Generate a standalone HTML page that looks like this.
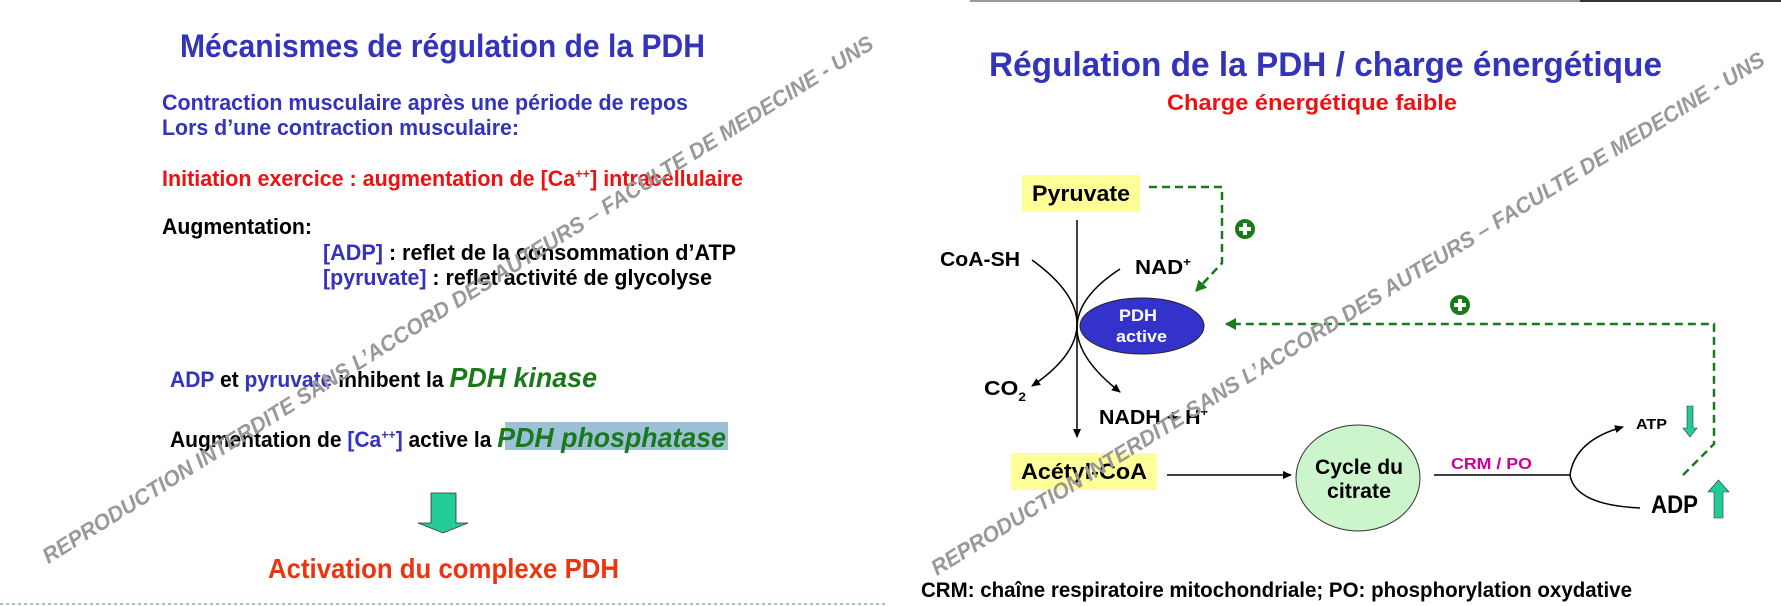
<!DOCTYPE html>
<html><head><meta charset="utf-8"><style>
html,body{margin:0;padding:0;background:#fff;}
svg{display:block;}
text{font-family:"Liberation Sans",Arial,sans-serif;font-weight:bold;}
</style></head><body>
<svg width="1781" height="606" viewBox="0 0 1781 606" xmlns="http://www.w3.org/2000/svg">
<defs>
<marker id="ab" markerWidth="10" markerHeight="10" refX="8" refY="5" orient="auto" markerUnits="userSpaceOnUse"><path d="M0,1 L9,5 L0,9 Z" fill="#000"/></marker>
<marker id="ag" markerWidth="14" markerHeight="14" refX="10" refY="7" orient="auto" markerUnits="userSpaceOnUse"><path d="M0,1 L11,7 L0,13 Z" fill="#1a7a1a"/></marker>
</defs>
<rect width="1781" height="606" fill="#fff"/>
<line x1="0" y1="604" x2="885" y2="604" stroke="#8aa" stroke-width="1.5" stroke-dasharray="3,3"/>
<line x1="970" y1="1" x2="1580" y2="1" stroke="#999" stroke-width="2"/>
<line x1="1580" y1="1" x2="1781" y2="1" stroke="#333" stroke-width="2"/>

<!-- LEFT PANEL -->
<text x="180" y="57" font-size="32" fill="#3333bb" textLength="525" lengthAdjust="spacingAndGlyphs">Mécanismes de régulation de la PDH</text>
<text x="162" y="110" font-size="22" fill="#3333bb" textLength="526" lengthAdjust="spacingAndGlyphs">Contraction musculaire après une période de repos</text>
<text x="162" y="135" font-size="22" fill="#3333bb" textLength="357" lengthAdjust="spacingAndGlyphs">Lors d’une contraction musculaire:</text>
<text x="162" y="186" font-size="22" fill="#ee1111" textLength="581" lengthAdjust="spacingAndGlyphs">Initiation exercice : augmentation de [Ca<tspan font-size="13" dy="-8">++</tspan><tspan dy="8">] intracellulaire</tspan></text>
<text x="162" y="234" font-size="22" fill="#000" textLength="150" lengthAdjust="spacingAndGlyphs">Augmentation:</text>
<text x="323" y="260" font-size="22" fill="#000" textLength="413" lengthAdjust="spacingAndGlyphs"><tspan fill="#3333bb">[ADP]</tspan> : reflet de la consommation d’ATP</text>
<text x="323" y="285" font-size="22" fill="#000" textLength="389" lengthAdjust="spacingAndGlyphs"><tspan fill="#3333bb">[pyruvate]</tspan> : reflet activité de glycolyse</text>
<text x="170" y="387" font-size="22" fill="#000" textLength="427" lengthAdjust="spacingAndGlyphs"><tspan fill="#3333bb">ADP</tspan> et <tspan fill="#3333bb">pyruvate</tspan> inhibent la <tspan font-size="28" font-style="italic" fill="#1a7a1a">PDH kinase</tspan></text>
<rect x="505" y="422" width="223" height="28" fill="#9cc0d8"/>
<text x="170" y="447" font-size="22" fill="#000" textLength="556" lengthAdjust="spacingAndGlyphs">Augmentation de <tspan fill="#3333bb">[Ca<tspan font-size="13" dy="-8">++</tspan><tspan dy="8">]</tspan></tspan> active la <tspan font-size="28" font-style="italic" fill="#1a7a1a">PDH phosphatase</tspan></text>
<path d="M431,493 L456,493 L456,523 L468,523 L443,533 L418,523 L431,523 Z" fill="#22cc99" stroke="#333" stroke-width="0.8"/>
<text x="268" y="578" font-size="28" fill="#ee3311" textLength="351" lengthAdjust="spacingAndGlyphs">Activation du complexe PDH</text>
<text x="458" y="307" font-size="22" font-style="italic" fill="#999" text-anchor="middle" transform="rotate(-32 458 300)" textLength="975" lengthAdjust="spacingAndGlyphs">REPRODUCTION INTERDITE SANS L’ACCORD DES AUTEURS – FACULTE DE MEDECINE - UNS</text>

<!-- RIGHT PANEL -->
<text x="989" y="76" font-size="34" fill="#3333bb" textLength="673" lengthAdjust="spacingAndGlyphs">Régulation de la PDH / charge énergétique</text>
<text x="1167" y="110" font-size="22" fill="#ee1111" textLength="290" lengthAdjust="spacingAndGlyphs">Charge énergétique faible</text>

<rect x="1022" y="175" width="118" height="37" fill="#ffff99"/>
<text x="1032" y="201" font-size="22" fill="#000" textLength="98" lengthAdjust="spacingAndGlyphs">Pyruvate</text>
<line x1="1077" y1="220" x2="1077" y2="437" stroke="#000" stroke-width="1.5" marker-end="url(#ab)"/>
<path d="M1032,260 Q1122,325 1032,386" fill="none" stroke="#000" stroke-width="1.5" marker-end="url(#ab)"/>
<path d="M1120,269 Q1034,325 1120,392" fill="none" stroke="#000" stroke-width="1.5" marker-end="url(#ab)"/>
<text x="940" y="266" font-size="20" fill="#000" textLength="80" lengthAdjust="spacingAndGlyphs">CoA-SH</text>
<text x="1135" y="274" font-size="20" fill="#000" textLength="56" lengthAdjust="spacingAndGlyphs">NAD<tspan font-size="12" dy="-8">+</tspan></text>
<text x="984" y="395" font-size="20" fill="#000" textLength="42" lengthAdjust="spacingAndGlyphs">CO<tspan font-size="12" dy="6">2</tspan></text>
<text x="1099" y="424" font-size="20" fill="#000" textLength="109" lengthAdjust="spacingAndGlyphs">NADH + H<tspan font-size="12" dy="-8">+</tspan></text>
<ellipse cx="1142" cy="326" rx="62" ry="28" fill="#3333cc" stroke="#222" stroke-width="1"/>
<text x="1119" y="321" font-size="17" fill="#fff" textLength="38" lengthAdjust="spacingAndGlyphs">PDH</text>
<text x="1116" y="342" font-size="17" fill="#fff" textLength="51" lengthAdjust="spacingAndGlyphs">active</text>

<rect x="1011" y="453" width="146" height="37" fill="#ffff99"/>
<text x="1021" y="479" font-size="22" fill="#000" textLength="126" lengthAdjust="spacingAndGlyphs">Acétyl-CoA</text>
<line x1="1167" y1="475" x2="1291" y2="475" stroke="#000" stroke-width="1.5" marker-end="url(#ab)"/>
<ellipse cx="1358" cy="478" rx="62" ry="53" fill="#ccf5cc" stroke="#333" stroke-width="1"/>
<text x="1315" y="474" font-size="21" fill="#000" textLength="88" lengthAdjust="spacingAndGlyphs">Cycle du</text>
<text x="1327" y="498" font-size="21" fill="#000" textLength="64" lengthAdjust="spacingAndGlyphs">citrate</text>
<text x="1451" y="469" font-size="16" fill="#cc0099" textLength="81" lengthAdjust="spacingAndGlyphs">CRM / PO</text>
<line x1="1434" y1="475" x2="1570" y2="475" stroke="#000" stroke-width="1.5"/>
<path d="M1570,475 Q1575,440 1623,427" fill="none" stroke="#000" stroke-width="1.5" marker-end="url(#ab)"/>
<path d="M1570,475 Q1575,505 1640,508" fill="none" stroke="#000" stroke-width="1.5"/>
<text x="1636" y="429" font-size="15" fill="#000" textLength="31" lengthAdjust="spacingAndGlyphs">ATP</text>
<path d="M1687,406 L1693,406 L1693,428 L1697,428 L1690,437 L1683,428 L1687,428 Z" fill="#22cc99" stroke="#333" stroke-width="0.6"/>
<text x="1651" y="513" font-size="25" fill="#000" textLength="47" lengthAdjust="spacingAndGlyphs">ADP</text>
<path d="M1714,518 L1723,518 L1723,492 L1729,492 L1718.5,480 L1708,492 L1714,492 Z" fill="#22cc99" stroke="#333" stroke-width="0.6"/>

<path d="M1149,187 L1222,187 L1222,263 L1196,291" fill="none" stroke="#1a7a1a" stroke-width="2.5" stroke-dasharray="8,5" marker-end="url(#ag)"/>
<path d="M1683,475 L1714,444 L1714,324 L1226,324" fill="none" stroke="#1a7a1a" stroke-width="2.5" stroke-dasharray="8,5" marker-end="url(#ag)"/>
<circle cx="1245" cy="229" r="10" fill="#1a7a1a"/>
<rect x="1239" y="227" width="12" height="4" fill="#fff"/><rect x="1243" y="223" width="4" height="12" fill="#fff"/>
<circle cx="1460" cy="305" r="10" fill="#1a7a1a"/>
<rect x="1454" y="303" width="12" height="4" fill="#fff"/><rect x="1458" y="299" width="4" height="12" fill="#fff"/>
<text x="921" y="597" font-size="21" fill="#000" textLength="711" lengthAdjust="spacingAndGlyphs">CRM: chaîne respiratoire mitochondriale; PO: phosphorylation oxydative</text>
<text x="1348" y="321" font-size="22" font-style="italic" fill="#999" text-anchor="middle" transform="rotate(-31.7 1348 314)" textLength="975" lengthAdjust="spacingAndGlyphs">REPRODUCTION INTERDITE SANS L’ACCORD DES AUTEURS – FACULTE DE MEDECINE - UNS</text>
</svg>
</body></html>
